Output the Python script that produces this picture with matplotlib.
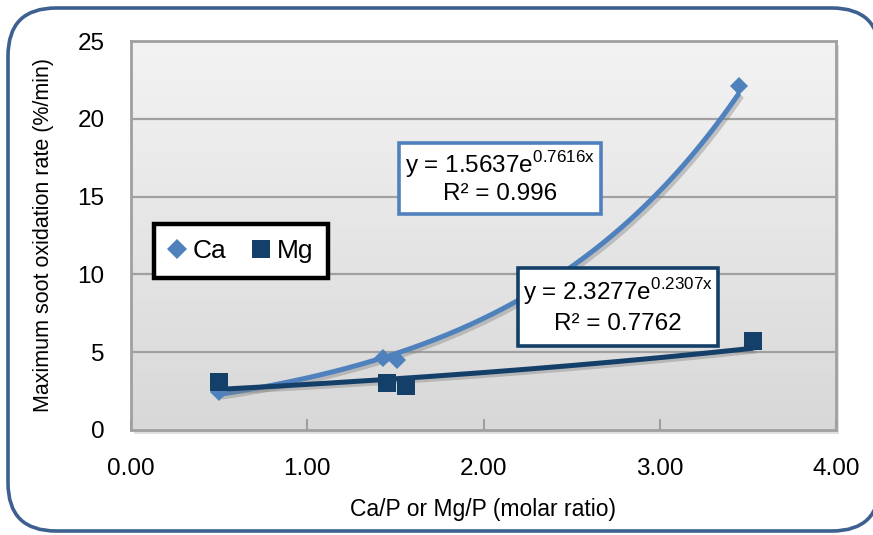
import numpy as np
import matplotlib
matplotlib.use("Agg")
import matplotlib.pyplot as plt
from matplotlib.patches import FancyBboxPatch, Rectangle
from matplotlib.lines import Line2D
import matplotlib.patheffects as pe

FONT = ["Liberation Sans", "DejaVu Sans"]
plt.rcParams["font.family"] = FONT
plt.rcParams["mathtext.fontset"] = "custom"
plt.rcParams["mathtext.rm"] = FONT[0]

# Measured data
ca_x = [0.50, 1.43, 1.51, 3.45]
ca_y = [2.44, 4.63, 4.50, 22.1]
mg_x = [0.50, 1.45, 1.56, 3.53]
mg_y = [3.08, 3.00, 2.83, 5.72]

# Exponential fits y = a * exp(b x), with R^2
ca_fit = (1.5637, 0.7616, 0.996)
mg_fit = (2.3277, 0.2307, 0.7762)

x_ticks = [0, 1, 2, 3, 4]
x_tick_labels = ["0.00", "1.00", "2.00", "3.00", "4.00"]
y_ticks = [0, 5, 10, 15, 20, 25]

CA_COLOR = "#4f81bd"
MG_COLOR = "#143f69"

W, H = 873, 535
fig = plt.figure(figsize=(W / 100, H / 100), dpi=100)


def fx(x):
    return x / W


def fy(y):
    return 1 - y / H


# Outer rounded frame
frame = FancyBboxPatch((fx(8), fy(531)), fx(880) - fx(8), fy(8) - fy(531),
                       boxstyle="round,pad=0,rounding_size=0.055",
                       transform=fig.transFigure, facecolor="white",
                       edgecolor="#3d6090", linewidth=2.6, zorder=-1,
                       mutation_aspect=W / H)
fig.patches.append(frame)

left, right, top, bottom = 131, 836, 41, 430
ax = fig.add_axes([fx(left), fy(bottom), fx(right) - fx(left), fy(top) - fy(bottom)])
ax.set_zorder(1)

# Soft shadow behind plot area
shadow = Rectangle((fx(left) + fx(3), fy(bottom) - 4 / H), fx(right) - fx(left), fy(top) - fy(bottom),
                   transform=fig.transFigure, facecolor="#d2d2d2", edgecolor="none",
                   alpha=0.7, zorder=0.5)
fig.patches.append(shadow)

ax.set_xlim(0, 4)
ax.set_ylim(0, 25)

# Vertical gradient background
grad = np.linspace(0, 1, 256).reshape(-1, 1)
top_c = np.array([0xf3, 0xf3, 0xf3]) / 255
bot_c = np.array([0xd8, 0xd8, 0xd8]) / 255
img = bot_c + (top_c - bot_c) * grad
ax.imshow(img[:, None, :].repeat(2, axis=1), extent=(0, 4, 0, 25), origin="lower",
          aspect="auto", zorder=0, interpolation="bilinear")

for yv in y_ticks[1:]:
    ax.axhline(yv, color="#a0a0a0", lw=1.6, zorder=1)

for s in ax.spines.values():
    s.set_color("#a0a0a0")
    s.set_linewidth(2)

ax.set_xticks(x_ticks)
ax.set_xticklabels(x_tick_labels)
ax.set_yticks(y_ticks)
ax.tick_params(axis="x", direction="in", length=8, width=1.5, color="#a0a0a0",
               labelsize=17.5, pad=20)
ax.tick_params(axis="y", direction="in", length=0, labelsize=17.5, pad=19)

ax.set_xlabel("Ca/P or Mg/P (molar ratio)", fontsize=16.5, labelpad=13)
ax.set_ylabel("Maximum soot oxidation rate (%/min)", fontsize=15.5, labelpad=17)

shadow_fx = [pe.SimpleLineShadow(offset=(2, -2), shadow_color="#808080", alpha=0.4), pe.Normal()]

# Trend lines
xc = np.linspace(min(ca_x), max(ca_x), 200)
ax.plot(xc, ca_fit[0] * np.exp(ca_fit[1] * xc), color=CA_COLOR, lw=3.6,
        zorder=3, path_effects=shadow_fx, solid_capstyle="butt")
xm = np.linspace(min(mg_x), max(mg_x), 200)
ax.plot(xm, mg_fit[0] * np.exp(mg_fit[1] * xm), color=MG_COLOR, lw=3.6,
        zorder=3, path_effects=shadow_fx, solid_capstyle="butt")

# Data points
ax.plot(ca_x, ca_y, ls="none", marker="D", ms=9.5, color=CA_COLOR, zorder=4,
        markeredgewidth=0)
ax.plot(mg_x, mg_y, ls="none", marker="s", ms=12.5, color=MG_COLOR, zorder=4,
        markeredgewidth=0)

# Legend
handles = [Line2D([], [], ls="none", marker="D", ms=10, color=CA_COLOR, markeredgewidth=0),
           Line2D([], [], ls="none", marker="s", ms=13, color=MG_COLOR, markeredgewidth=0)]
leg = fig.legend(handles, ["Ca", "Mg"], loc="center",
                 bbox_to_anchor=(fx(241), fy(251)), ncol=2, fontsize=19,
                 frameon=True, fancybox=False, framealpha=1, handlelength=0.6,
                 handletextpad=0.3, columnspacing=1.0, borderpad=0.55)
leg.get_frame().set_edgecolor("black")
leg.get_frame().set_linewidth(3.2)
leg.set_zorder(6)


def eq_box(x0, y0, x1, y1, color, fit):
    rect = Rectangle((fx(x0), fy(y1)), fx(x1) - fx(x0), fy(y0) - fy(y1),
                     transform=fig.transFigure, facecolor="white",
                     edgecolor=color, linewidth=2.6, zorder=5)
    fig.patches.append(rect)
    cx = (x0 + x1) / 2
    h = y1 - y0
    a, b, r2 = fit
    fig.text(fx(cx), fy(y0 + h * 0.30),
             "y = %.4fe$^{\\mathregular{%.4fx}}$" % (a, b),
             ha="center", va="center", fontsize=17.5, zorder=6)
    fig.text(fx(cx), fy(y0 + h * 0.72), "R² = %s" % (("%.4f" % r2).rstrip("0")),
             ha="center", va="center", fontsize=17.5, zorder=6)


eq_box(399, 143, 601, 214, CA_COLOR, ca_fit)
eq_box(518, 268, 718, 346, MG_COLOR, mg_fit)

fig.savefig("out.png", dpi=100)
